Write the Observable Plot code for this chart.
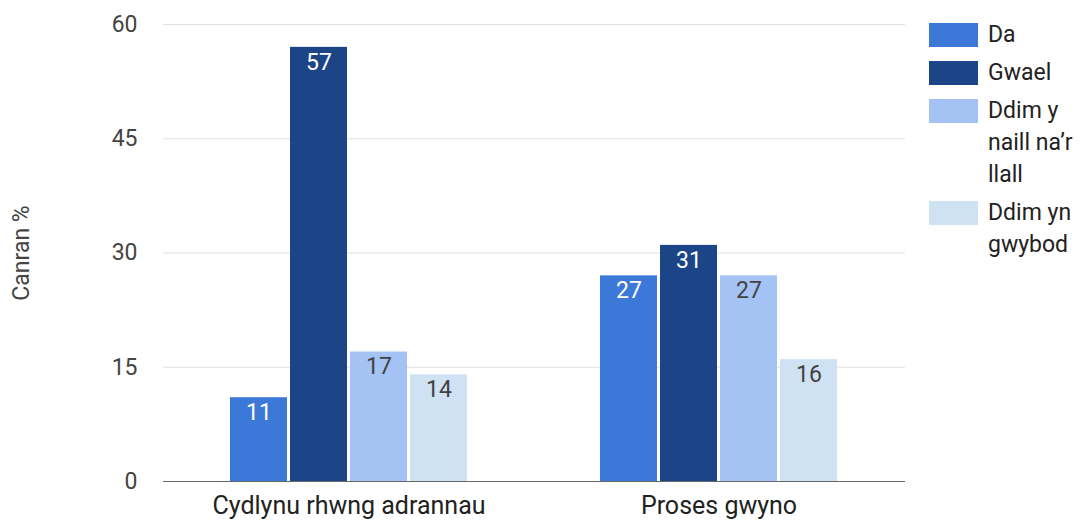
<!DOCTYPE html>
<html>
<head>
<meta charset="utf-8">
<script src="https://cdn.jsdelivr.net/npm/d3@7"></script>
<script src="https://cdn.jsdelivr.net/npm/@observablehq/plot@0.6"></script>
<style>
  html, body { margin: 0; padding: 0; background: #fff; }
  #wrap { position: relative; width: 1086px; height: 521px; font-family: Roboto, sans-serif; }
  #legend { position: absolute; left: 929px; top: 19px; display: flex; flex-direction: column; gap: 6px; }
  .item { display: flex; align-items: flex-start; }
  .swatch { width: 49px; height: 24px; margin-top: 4px; flex: none; }
  .name { margin-left: 10px; width: 98px; font-size: 23px; line-height: 32px; color: #222; }
</style>
</head>
<body>
<div id="wrap">
  <div id="chart"></div>
  <div id="legend"></div>
</div>
<script>
// Survey answers (percent) for two questions
const categories = ["Cydlynu rhwng adrannau", "Proses gwyno"];
const seriesNames = ["Da", "Gwael", "Ddim y naill na’r llall", "Ddim yn gwybod"];
const da = [11, 27];
const gwael = [57, 31];
const ddimYNaill = [17, 27];
const ddimYnGwybod = [14, 16];
const yTicks = [0, 15, 30, 45, 60];
const axisTitle = "Canran %";

const seriesValues = [da, gwael, ddimYNaill, ddimYnGwybod];
const seriesColors = ["#3c78d8", "#1c4587", "#a4c2f4", "#cfe2f3"];
const labelColors = ["#ffffff", "#ffffff", "#424242", "#424242"];

// Each category band holds four bars side by side
const groupWidth = 240;
const barStep = groupWidth / seriesNames.length;

const seriesMarks = seriesValues.flatMap((values, i) => {
  const rows = categories.map((c, j) => ({category: c, value: values[j]}));
  return [
    Plot.barY(rows, {
      x: "category",
      y: "value",
      fill: seriesColors[i],
      insetLeft: i * barStep + 1,
      insetRight: (seriesNames.length - 1 - i) * barStep + 1
    }),
    Plot.text(rows, {
      x: "category",
      y: "value",
      text: (d) => String(d.value),
      dx: (i + 0.5) * barStep - groupWidth / 2,
      dy: 15,
      fill: labelColors[i],
      fontSize: 23
    })
  ];
});

const chart = Plot.plot({
  width: 1086,
  height: 521,
  marginTop: 24,
  marginBottom: 40,
  marginLeft: 163,
  marginRight: 181,
  style: {fontFamily: "Roboto, sans-serif", fontSize: "23px", background: "transparent"},
  x: {domain: categories, paddingInner: 0.3531, paddingOuter: 0.1766, label: null},
  y: {domain: [0, 60], ticks: yTicks},
  marks: [
    Plot.ruleY(yTicks.filter((t) => t > 0), {stroke: "#e0e0e0", strokeWidth: 1}),
    Plot.axisY({
      ticks: yTicks,
      tickSize: 0,
      tickPadding: 26,
      fill: "#444",
      fontSize: 23,
      label: axisTitle,
      labelAnchor: "center",
      labelArrow: "none",
      labelOffset: 151
    }),
    Plot.axisX({tickSize: 0, tickPadding: 15, fill: "#222", fontSize: 25, label: null}),
    ...seriesMarks,
    Plot.ruleY([0], {stroke: "#666", strokeWidth: 1.2})
  ]
});
document.getElementById("chart").append(chart);

// Legend on the right
const legend = document.getElementById("legend");
seriesNames.forEach((name, i) => {
  const item = document.createElement("div");
  item.className = "item";
  const sw = document.createElement("div");
  sw.className = "swatch";
  sw.style.background = seriesColors[i];
  const label = document.createElement("div");
  label.className = "name";
  label.textContent = name;
  item.append(sw, label);
  legend.append(item);
});
</script>
</body>
</html>
